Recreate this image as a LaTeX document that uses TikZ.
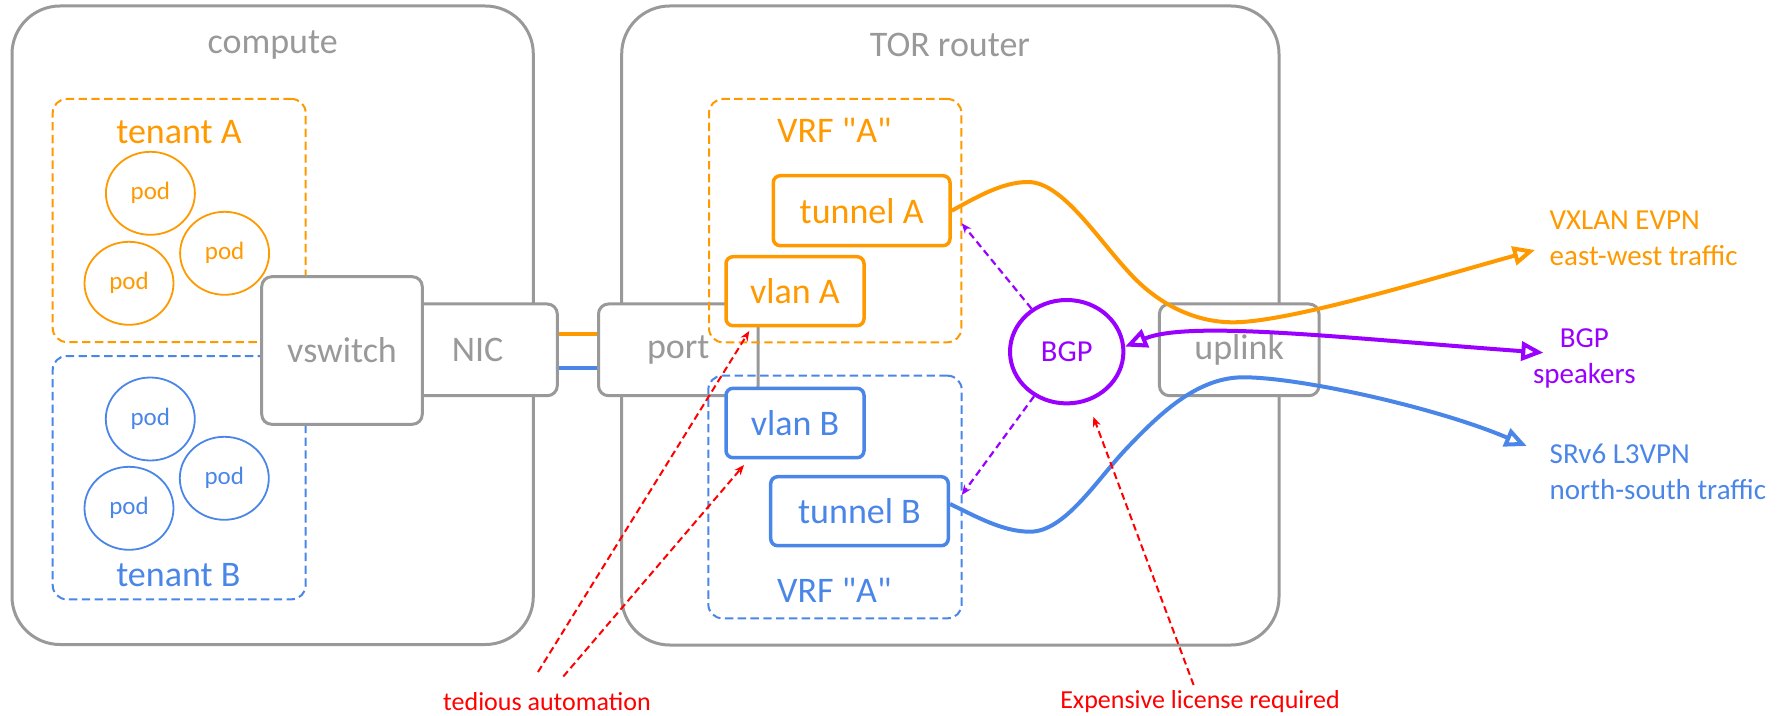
\documentclass[tikz,border=0pt]{standalone}
\usepackage{fontspec}
\setmainfont{Carlito}[Ligatures=TeXOff]
\usetikzlibrary{arrows.meta,shapes.geometric}

\definecolor{cgray}{HTML}{999999}
\definecolor{corange}{HTML}{FF9900}
\definecolor{cblue}{HTML}{4A86E8}
\definecolor{cpurple}{HTML}{9900FF}
\definecolor{cred}{HTML}{FF0000}

\tikzset{
  bigtext/.style={font=\fontsize{18}{22}\selectfont},
  graytext/.style={bigtext, text=cgray},
  sidetext/.style={font=\fontsize{14.5}{17.65}\selectfont, inner sep=0pt},
  remarktext/.style={font=\fontsize{13}{16}\selectfont, text=cred, inner sep=0pt},
  hostbox/.style={draw=cgray, line width=1.5pt, rounded corners=24pt, inner sep=0pt},
  groupbox/.style={draw=#1, line width=1pt, dash pattern=on 4.2pt off 2.2pt,
                   rounded corners=7pt, inner sep=0pt},
  pod/.style={ellipse, draw=#1, text=#1, line width=0.9pt, inner sep=0pt,
              minimum width=44.5pt, minimum height=41.5pt,
              font=\fontsize{12.5}{15}\selectfont},
  devbox/.style={draw=cgray, fill=white, line width=1.5pt, rounded corners=5pt,
                 text=cgray, bigtext, inner sep=0pt,
                 minimum width=79.8pt, minimum height=45.85pt},
  ifbox/.style={draw=#1, text=#1, fill=white, line width=1.75pt,
                rounded corners=3.5pt, bigtext, inner sep=0pt},
  bgpnode/.style={ellipse, draw=cpurple, text=cpurple, fill=white, line width=2pt,
                  inner sep=0pt, minimum width=56.7pt, minimum height=51.7pt,
                  font=\fontsize{15.25}{18}\selectfont},
  wire/.style={draw=#1, line width=2pt},
  hollow/.tip={Triangle[open, length=11pt, width=9.5pt]},
  flow/.style={draw=#1, line width=2pt, -hollow},
  ctrl/.style={draw=cpurple, line width=1.1pt, dash pattern=on 3.5pt off 2.2pt,
               -{Stealth[length=5pt, width=4pt]}},
  remark/.style={draw=cred, line width=1pt, dash pattern=on 3.5pt off 2pt,
                 -{Stealth[length=5pt, width=4pt]}}
}

\begin{document}
\begin{tikzpicture}[x=0.5pt, y=-0.5pt]
\useasboundingbox (0,0) rectangle (1791,716);

% hosts
\node[hostbox, minimum width=260.65pt, minimum height=319.25pt] (compute) at (272.65,325.25) {};
\node[hostbox, minimum width=328.65pt, minimum height=319.5pt] (tor) at (950.35,325.5) {};
\node[graytext] (computeT) at (272.7,45) {compute};
\node[graytext] (torT) at (950,45) {TOR router};

% tenants and their pods
\node[groupbox=corange, minimum width=126.5pt, minimum height=121.5pt] (tenA) at (179.2,220.5) {};
\node[bigtext, text=corange] (tenAT) at (179,131.7) {tenant A};
\node[pod=corange] (podA1) at (150.4,193.3) {pod};
\node[pod=corange] (podA2) at (224.6,253.3) {pod};
\node[pod=corange] (podA3) at (129,283.3) {pod};

\node[groupbox=cblue, minimum width=126.5pt, minimum height=121.65pt] (tenB) at (179.2,477.65) {};
\node[bigtext, text=cblue] (tenBT) at (178.3,575) {tenant B};
\node[pod=cblue] (podB1) at (150.3,419) {pod};
\node[pod=cblue] (podB2) at (224.3,478.3) {pod};
\node[pod=cblue] (podB3) at (129,508.3) {pod};

% NIC and vswitch
\node[devbox] (nic) at (477.5,349.85) {NIC};
\node[devbox, minimum width=80.3pt, minimum height=73.8pt] (vsw) at (342,350.5) {vswitch};

% router port and its links to the NIC
\node[devbox] (port) at (678.3,349.85) {port};
\draw[wire=corange] ([yshift=7.93pt]nic.east) -- ([yshift=7.93pt]port.west);
\draw[wire=cblue] ([yshift=-8.93pt]nic.east) -- ([yshift=-8.93pt]port.west);

% VRFs
\node[groupbox=corange, minimum width=126.2pt, minimum height=121.65pt] (vrfA) at (835.2,220.65) {};
\node[bigtext, text=corange] (vrfAT) at (834.4,130.7) {VRF "A"};
\node[groupbox=cblue, minimum width=126.7pt, minimum height=121.3pt] (vrfB) at (835,497) {};
\node[bigtext, text=cblue] (vrfBT) at (834.3,590.7) {VRF "A"};

\node[ifbox=corange, minimum width=69pt, minimum height=34.5pt] (vlanA) at (795,291.2) {vlan A};
\node[ifbox=corange, minimum width=88.35pt, minimum height=35pt] (tunA) at (861.65,210.7) {tunnel A};
\node[ifbox=cblue, minimum width=69pt, minimum height=34.7pt] (vlanB) at (795,423) {vlan B};
\node[ifbox=cblue, minimum width=88.8pt, minimum height=34.5pt] (tunB) at (859.5,511.2) {tunnel B};

% uplink and BGP
\node[devbox] (uplink) at (1239.2,349.85) {uplink};
\node[bgpnode] (bgp) at (1066.7,351.7) {BGP};

% outside labels
\node[sidetext, text=corange, anchor=west, align=left] (evpn) at (1549.3,238.3) {VXLAN EVPN\\east-west traffic};
\node[sidetext, text=cpurple, align=center] (peers) at (1584.3,358.5) {BGP\\speakers};
\node[sidetext, text=cblue, anchor=west, align=left] (srv6) at (1549.3,471.7) {SRv6 L3VPN\\north-south traffic};
\node[remarktext] (tedious) at (547,702) {tedious automation};
\node[remarktext] (license) at (1200,702) {Expensive license required};

% arrow end points
\coordinate (vxlanTip) at (1535,250);
\coordinate (peersTip) at (1543.3,352.7);
\coordinate (srv6Tip) at (1526.7,446);
\coordinate (ctlA) at (961.7,223.3);
\coordinate (ctlB) at (961.7,495);
\coordinate (autoA) at (749.3,331);
\coordinate (autoB) at (744,465);
\coordinate (lic) at (1093.3,416.7);
\coordinate (autoAs) at (538,672);
\coordinate (autoBs) at (563.3,676.5);
\coordinate (lics) at (1193.6,685);

% traffic flows
\draw[flow=corange] (tunA.east) .. controls (976,197.5) and (1002,182) .. (1028,182)
  .. controls (1063,182) and (1098,240.3) .. (1133,276.7)
  .. controls (1158,302.7) and (1193,322.3) .. (1233,322.3)
  .. controls (1290,322.3) and (1435,277.6) .. (vxlanTip);
\draw[flow=cblue] ([yshift=3.6pt]tunB.east) .. controls (977,517) and (1003,531.7) .. (1030,531.7)
  .. controls (1065,531.7) and (1096.7,479.8) .. (1126.7,448.3)
  .. controls (1161.7,411.5) and (1198.3,377.3) .. (1243.3,377.3)
  .. controls (1300,377.3) and (1436.7,407.6) .. (srv6Tip);
\draw[flow=cpurple, hollow-hollow]
  (bgp.5) .. controls (1190,320) and (1343.3,338.1) .. (peersTip);

% BGP control and remarks
\draw[ctrl] (bgp) -- (ctlA);
\draw[ctrl] (bgp) -- (ctlB);
\draw[remark] (autoAs) -- (autoA);
\draw[remark] (autoBs) -- (autoB);
\draw[remark] (lics) -- (lic);
\end{tikzpicture}
\end{document}
